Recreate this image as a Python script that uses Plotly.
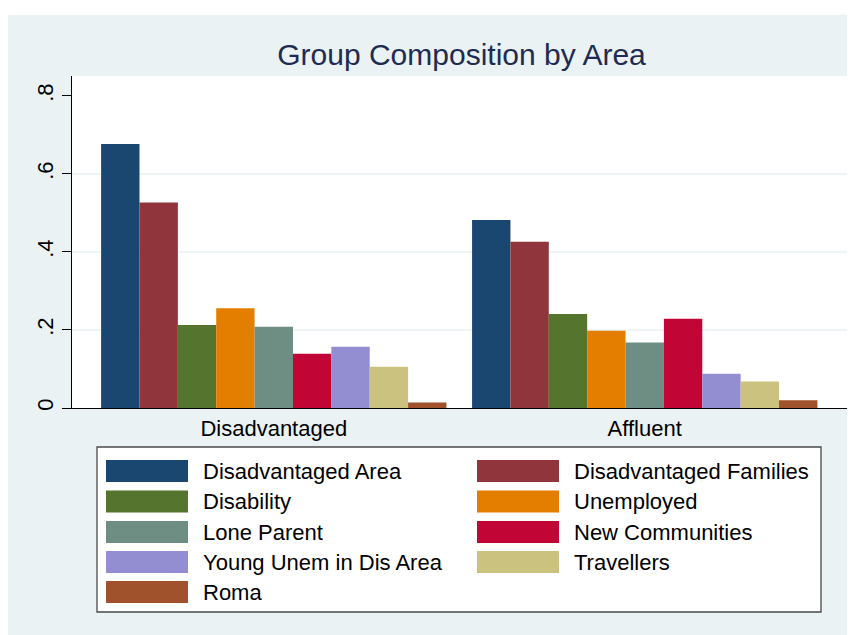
import plotly.graph_objects as go

# Datos
areas = ['Disadvantaged', 'Affluent']
grupos = ['Disadvantaged Area', 'Disadvantaged Families', 'Disability', 'Unemployed',
          'Lone Parent', 'New Communities', 'Young Unem in Dis Area', 'Travellers', 'Roma']
disadvantaged = [0.677, 0.527, 0.213, 0.256, 0.208, 0.139, 0.157, 0.106, 0.014]
affluent = [0.482, 0.426, 0.241, 0.198, 0.168, 0.229, 0.088, 0.068, 0.020]
colores = ['#1A476F', '#90353B', '#55752F', '#E37E00', '#6E8E84',
           '#C10534', '#938DD2', '#CAC27E', '#A0522D']
y_ticks = [0, 0.2, 0.4, 0.6, 0.8]
y_labels = ['0', '.2', '.4', '.6', '.8']
y_grid = [0.2, 0.4, 0.6]

W, H = 855, 635
OFF = 8  # margen del body en la pagina
L, R, T, B = 64, 15, 68, 235
pw, ph = W - L - R, H - T - B


# pixel de pantalla -> coordenada paper
def px(x):
    return (x - OFF - L) / pw


def py(y):
    return (H - B - (y - OFF)) / ph


fuente = 'Arial, Liberation Sans, sans-serif'

fig = go.Figure()
for i, g in enumerate(grupos):
    fig.add_trace(go.Bar(
        x=areas, y=[disadvantaged[i], affluent[i]], name=g,
        marker=dict(color=colores[i], line=dict(width=0)),
        showlegend=False
    ))

shapes = [
    # panel de fondo
    dict(type='rect', xref='paper', yref='paper', layer='below',
         x0=px(8), x1=px(W + 20), y0=py(H + 20), y1=py(15),
         fillcolor='#EAF2F3', line=dict(width=0)),
    # area de grafico
    dict(type='rect', xref='paper', yref='paper', layer='below',
         x0=0, x1=1, y0=0, y1=1, fillcolor='white', line=dict(width=0)),
    # caja de leyenda
    dict(type='rect', xref='paper', yref='paper',
         x0=px(97), x1=px(821), y0=py(612), y1=py(447),
         fillcolor='white', line=dict(color='#4a4a4a', width=1.3)),
]
# lineas de cuadricula (sin la de .8)
for v in y_grid:
    shapes.append(dict(type='line', xref='paper', yref='y', layer='below',
                       x0=0, x1=1, y0=v, y1=v, line=dict(color='#EAF2F3', width=1.5)))

annotations = []

# Leyenda manual (2 columnas)
filas_y = [471, 501.5, 532, 562, 592]
for i, g in enumerate(grupos):
    col, fila = i % 2, i // 2
    x_sw = 106 if col == 0 else 477
    yc = filas_y[fila]
    shapes.append(dict(type='rect', xref='paper', yref='paper',
                       x0=px(x_sw), x1=px(x_sw + 82), y0=py(yc + 11), y1=py(yc - 11),
                       fillcolor=colores[i], line=dict(width=0)))
    annotations.append(dict(xref='paper', yref='paper', x=px(x_sw + 95), y=py(yc),
                            text=g, showarrow=False, xanchor='left', yanchor='middle',
                            font=dict(family=fuente, size=22, color='black')))

fig.update_layout(
    width=W, height=H,
    margin=dict(l=L, r=R, t=T, b=B),
    paper_bgcolor='white',
    plot_bgcolor='white',
    barmode='group',
    bargap=0.069,
    bargroupgap=0,
    title=dict(text='Group Composition by Area', xref='paper', x=px(461.5), xanchor='center',
               yref='container', y=1 - (54 - OFF) / H, yanchor='middle',
               font=dict(family=fuente, size=30, color='#1E2B52')),
    xaxis=dict(range=[-0.544, 1.548], showline=True, linecolor='black', linewidth=1.3,
               ticks='', showgrid=False, tickfont=dict(family=fuente, size=22, color='black')),
    yaxis=dict(range=[0, 0.851], tickvals=y_ticks, ticktext=y_labels, tickangle=-90,
               ticks='outside', ticklen=9, tickcolor='black', tickwidth=1,
               showline=True, linecolor='black', linewidth=1.3,
               showgrid=False, zeroline=False,
               tickfont=dict(family=fuente, size=22, color='black')),
    shapes=shapes,
    annotations=annotations,
)

fig.write_html('out.html')
